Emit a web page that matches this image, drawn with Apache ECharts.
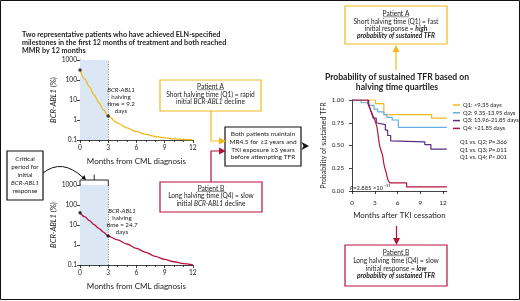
<!DOCTYPE html>
<html>
<head>
<meta charset="utf-8">
<script src="https://cdn.jsdelivr.net/npm/echarts@6/dist/echarts.min.js"></script>
<style>
  html, body { margin: 0; padding: 0; background: #fff; }
  #chart { width: 520px; height: 301px; }
</style>
</head>
<body>
<div id="chart"></div>
<script>
// months from CML diagnosis and BCR-ABL1 (%) for the two example patients
const dxMonths = [0, 0.5, 1, 1.5, 2, 2.5, 3, 4, 5, 6, 7, 8, 9, 10, 11, 12]
const patientA = [316, 110, 45, 18, 7.5, 3.2, 1.58, 0.70, 0.40, 0.26, 0.19, 0.15, 0.128, 0.114, 0.106, 0.101]
const patientB = [41, 26, 16.5, 10.5, 6.8, 4.4, 2.8, 1.8, 1.12, 0.68, 0.43, 0.27, 0.19, 0.145, 0.118, 0.103]
const markedMonths = [0, 3]

// Kaplan-Meier: [months after TKI cessation, probability of sustained TFR]
const q1 = [[0, 1], [3.1, 0.96], [4.2, 0.84], [10.5, 0.80], [12.5, 0.80]]
const q2 = [[0, 1], [1.2, 0.97], [2.2, 0.94], [2.9, 0.90], [3.4, 0.87], [4.2, 0.84], [4.6, 0.81], [5.3, 0.78], [6.1, 0.70], [12.5, 0.70]]
const q3 = [[0, 1], [2.2, 0.95], [2.4, 0.90], [2.6, 0.85], [2.8, 0.80], [3.2, 0.75], [3.4, 0.73], [4.4, 0.67], [4.7, 0.61], [5.1, 0.55], [5.3, 0.54], [9.6, 0.51], [10.4, 0.46], [12.5, 0.46]]
const q4 = [[0, 1], [2.1, 0.96], [2.3, 0.92], [2.5, 0.88], [2.7, 0.84], [2.9, 0.80], [3.1, 0.76], [3.3, 0.70], [3.4, 0.64], [3.5, 0.58], [3.6, 0.52], [3.7, 0.48], [3.85, 0.44], [4.0, 0.40], [4.1, 0.36], [4.2, 0.30], [4.3, 0.26], [4.45, 0.22], [4.6, 0.17], [4.7, 0.13], [4.95, 0.09], [7.2, 0.045], [12.5, 0.045]]
const quartileNames = ['Q1: <9.35 days', 'Q2: 9.35-13.95 days', 'Q3: 13.96-21.85 days', 'Q4: >21.85 days']
const kmTicks = [0, 3, 6, 9, 12]

const YEL = '#f0b91e'
const RED = '#b5133c'
const BLUE = '#63ade3'
const PURP = '#5a2c82'
const INK = '#222'
const FONT = 'Lato, "Noto Sans", sans-serif'

const pairs = (xs, ys) => xs.map((x, i) => [x, ys[i]])
const pick = (xs, ys, keep) => xs.map((x, i) => [x, ys[i]]).filter(p => keep.includes(p[0]))

const txt = (x, y, text, o = {}) => ({
  type: 'text',
  x, y, z: 100,
  style: Object.assign({
    text,
    fill: INK,
    fontFamily: FONT,
    fontSize: 6.6,
    align: 'center',
    verticalAlign: 'top',
    lineHeight: 7.5,
    rich: {
      i: { fontStyle: 'italic', fontFamily: FONT, fontSize: o.fontSize || 6.6, fill: INK },
      b: { fontStyle: 'italic', fontWeight: 'bold', fontFamily: FONT, fontSize: o.fontSize || 6.6, fill: INK }
    }
  }, o)
})
const box = (x, y, w, h, color) => ({
  type: 'rect', z: 90,
  shape: { x, y, width: w, height: h },
  style: { fill: '#fff', stroke: color, lineWidth: 1.2 }
})
const line = (points, color, w = 1.2) => ({
  type: 'polyline', z: 95,
  shape: { points },
  style: { stroke: color, lineWidth: w, fill: null }
})
const tri = (points, color) => ({
  type: 'polygon', z: 96, shape: { points }, style: { fill: color }
})

const logAxis = (gi) => ({
  gridIndex: gi,
  type: 'log',
  logBase: 10,
  min: 0.1,
  max: 1000,
  name: '{i|BCR-ABL1} (%)',
  nameLocation: 'middle',
  nameGap: 22,
  nameTextStyle: { fontFamily: FONT, fontSize: 7.6, color: INK, rich: { i: { fontStyle: 'italic', fontFamily: FONT, fontSize: 7.6, color: INK } } },
  axisLine: { show: true, lineStyle: { color: '#111', width: 0.8 } },
  axisTick: { show: true, length: 3, lineStyle: { color: '#111', width: 0.8 } },
  axisLabel: { fontFamily: FONT, fontSize: 6.6, color: INK, margin: 3, formatter: v => String(+(+v).toPrecision(3)) },
  splitLine: { show: false }
})
const dxAxis = (gi) => ({
  gridIndex: gi,
  type: 'value',
  min: 0,
  max: 12,
  interval: 3,
  name: 'Months from CML diagnosis',
  nameLocation: 'middle',
  nameGap: 17,
  nameTextStyle: { fontFamily: FONT, fontSize: 8, color: INK },
  axisLine: { lineStyle: { color: '#111', width: 0.8 } },
  axisTick: { show: true, length: 3, lineStyle: { color: '#111', width: 0.8 } },
  minorTick: { show: true, splitNumber: 3, length: 2, lineStyle: { color: '#111', width: 0.7 } },
  axisLabel: { fontFamily: FONT, fontSize: 6.6, color: INK, margin: 4 },
  splitLine: { show: false }
})
const curve = (gi, name, data, color) => ({
  name,
  type: 'line',
  xAxisIndex: gi,
  yAxisIndex: gi,
  data,
  smooth: 0.3,
  smoothMonotone: 'x',
  showSymbol: false,
  z: 3,
  lineStyle: { color, width: 1.3 },
  markArea: {
    silent: true,
    itemStyle: { color: '#dce7f5' },
    data: [[{ xAxis: 0 }, { xAxis: 3 }]]
  },
  markLine: {
    silent: true,
    symbol: 'none',
    label: { show: false },
    lineStyle: { color: '#666', type: [1, 1.5], width: 0.8 },
    data: [{ xAxis: 3 }]
  }
})
const dots = (gi, data) => ({
  type: 'scatter',
  xAxisIndex: gi,
  yAxisIndex: gi,
  data,
  symbolSize: 3.5,
  z: 6,
  itemStyle: { color: '#111' }
})
const km = (name, data, color) => ({
  name,
  type: 'line',
  xAxisIndex: 2,
  yAxisIndex: 2,
  data,
  step: 'end',
  showSymbol: false,
  lineStyle: { color, width: 1.2 },
  itemStyle: { color }
})

const chart = echarts.init(document.getElementById('chart'), null, { renderer: 'canvas' })

chart.setOption({
  animation: false,
  backgroundColor: '#fff',
  textStyle: { fontFamily: FONT },
  grid: [
    { left: 80, top: 60, width: 112.8, height: 80 },
    { left: 80, top: 185, width: 112.8, height: 80 },
    { left: 352, top: 100, width: 94.8, height: 91 }
  ],
  xAxis: [
    dxAxis(0),
    dxAxis(1),
    {
      gridIndex: 2,
      type: 'value',
      min: 0,
      max: 12.5,
      offset: 5,
      name: 'Months after TKI cessation',
      nameLocation: 'middle',
      nameGap: 15,
      nameTextStyle: { fontFamily: FONT, fontSize: 7.8, color: INK },
      axisLine: { lineStyle: { color: '#111', width: 0.8 } },
      axisTick: { show: true, length: 3, customValues: kmTicks, lineStyle: { color: '#111', width: 0.8 } },
      axisLabel: { fontFamily: FONT, fontSize: 6.4, color: INK, margin: 4, customValues: kmTicks },
      splitLine: { show: false }
    }
  ],
  yAxis: [
    logAxis(0),
    logAxis(1),
    {
      gridIndex: 2,
      type: 'value',
      min: 0,
      max: 1,
      interval: 0.25,
      offset: 5,
      name: 'Probability of sustained TFR',
      nameLocation: 'middle',
      nameGap: 20,
      nameTextStyle: { fontFamily: FONT, fontSize: 7, color: INK },
      axisLine: { show: true, lineStyle: { color: '#111', width: 0.8 } },
      axisTick: { show: true, length: 3, lineStyle: { color: '#111', width: 0.8 } },
      axisLabel: { fontFamily: FONT, fontSize: 6.2, color: INK, margin: 3, formatter: v => v.toFixed(2) },
      splitLine: { show: false }
    }
  ],
  legend: {
    data: quartileNames,
    orient: 'vertical',
    left: 448,
    top: 97,
    itemGap: 1.8,
    itemWidth: 7,
    itemHeight: 1.5,
    icon: 'rect',
    textStyle: { fontFamily: FONT, fontSize: 5.8, color: INK, padding: [0, 0, 0, -2] }
  },
  series: [
    curve(0, 'Patient A', pairs(dxMonths, patientA), YEL),
    dots(0, pick(dxMonths, patientA, markedMonths)),
    curve(1, 'Patient B', pairs(dxMonths, patientB), RED),
    dots(1, pick(dxMonths, patientB, markedMonths)),
    km(quartileNames[0], q1, YEL),
    km(quartileNames[1], q2, BLUE),
    km(quartileNames[2], q3, PURP),
    km(quartileNames[3], q4, RED)
  ],
  graphic: [
    // outer frame
    { type: 'rect', z: 1, shape: { x: 0.5, y: 0.5, width: 519, height: 299 }, style: { fill: null, stroke: '#111', lineWidth: 1 } },

    txt(22, 31, 'Two representative patients who have achieved ELN-specified\nmilestones in the first 12 months of treatment and both reached\nMMR by 12 months',
      { align: 'left', fontWeight: 'bold', fontSize: 7.2, lineHeight: 8 }),

    // in-chart notes
    txt(121, 86.5, '{i|BCR-ABL1}\nhalving\ntime = 9.2\ndays', { fontSize: 6.2, lineHeight: 7 }),
    txt(122, 207.5, '{i|BCR-ABL1}\nhalving\ntime = 24.7\ndays', { fontSize: 6.2, lineHeight: 7 }),

    // critical period box, curved arrow and bracket
    box(7, 151, 36, 49, '#111'),
    txt(25, 155, 'Critical\nperiod for\ninitial\n{i|BCR-ABL1}\nresponse', { fontSize: 6.3, lineHeight: 8.1 }),
    { type: 'bezierCurve', z: 95, shape: { x1: 43, y1: 173, cpx1: 62, cpy1: 158, x2: 83, y2: 177.5 }, style: { stroke: '#111', lineWidth: 1, fill: null } },
    tri([[86, 180], [81.4, 178.6], [84.4, 175]], '#111'),
    line([[80, 186], [80, 180], [108.3, 180], [108.3, 186]], '#111', 0.9),
    line([[94.2, 180], [94.2, 174.5]], '#111', 0.9),

    // patient A / B boxes in the middle
    box(160, 80, 101, 31, YEL),
    txt(210.5, 83.3, 'Patient A\nShort halving time (Q1) = rapid\ninitial {i|BCR-ABL1} decline'),
    line([[197, 89.7], [224, 89.7]], INK, 0.5),
    box(160, 182, 102, 30, RED),
    txt(211, 185, 'Patient B\nLong halving time (Q4) = slow\ninitial {i|BCR-ABL1} decline'),
    line([[197.5, 191.4], [224.5, 191.4]], INK, 0.5),

    line([[211, 111], [211, 141], [220, 141]], YEL),
    tri([[226, 141], [219, 137.5], [219, 144.5]], YEL),
    line([[211, 182], [211, 151], [220, 151]], RED),
    tri([[226, 151], [219, 147.5], [219, 154.5]], RED),

    box(225, 127, 76, 39, '#111'),
    txt(263, 130.5, 'Both patients maintain\nMR4.5 for \u22652 years and\nTKI exposure \u22653 years\nbefore attempting TFR', { fontSize: 6.5, lineHeight: 7.6 }),
    tri([[309, 146], [301.5, 142], [303.5, 146], [301.5, 150]], '#111'),

    // right column
    box(345, 6, 102, 38, YEL),
    txt(396, 10.5, 'Patient A\nShort halving time (Q1) = fast\ninitial response = {b|high}\n{b|probability of sustained TFR}', { lineHeight: 7.3 }),
    line([[383, 16.8], [409, 16.8]], INK, 0.5),
    line([[396, 70], [396, 51]], YEL),
    tri([[396, 45], [392.5, 52], [399.5, 52]], YEL),

    txt(397, 72, 'Probability of sustained TFR based on\nhalving time quartiles', { fontWeight: 'bold', fontSize: 8.6, lineHeight: 10 }),

    txt(460, 139, 'Q1 vs. Q2; {i|P}=.366\nQ1 vs. Q3; {i|P}=.011\nQ1 vs. Q4; {i|P}<.001', { align: 'left', fontSize: 5.8, lineHeight: 7.2 }),
    txt(350, 184.5, '{i|P}=2.885 \u00d710', { align: 'left', fontSize: 5.8 }),
    txt(384.5, 181.5, '-11', { align: 'left', fontSize: 4 }),

    line([[396.5, 226], [396.5, 239]], RED),
    tri([[396.5, 245], [393, 238], [400, 238]], RED),
    box(345, 245, 102, 41, RED),
    txt(396, 249, 'Patient B\nLong halving time (Q4) = slow\ninitial response = {b|low}\n{b|probability of sustained TFR}', { lineHeight: 7.8 }),
    line([[383, 255.7], [409, 255.7]], INK, 0.5)
  ]
})
</script>
</body>
</html>
